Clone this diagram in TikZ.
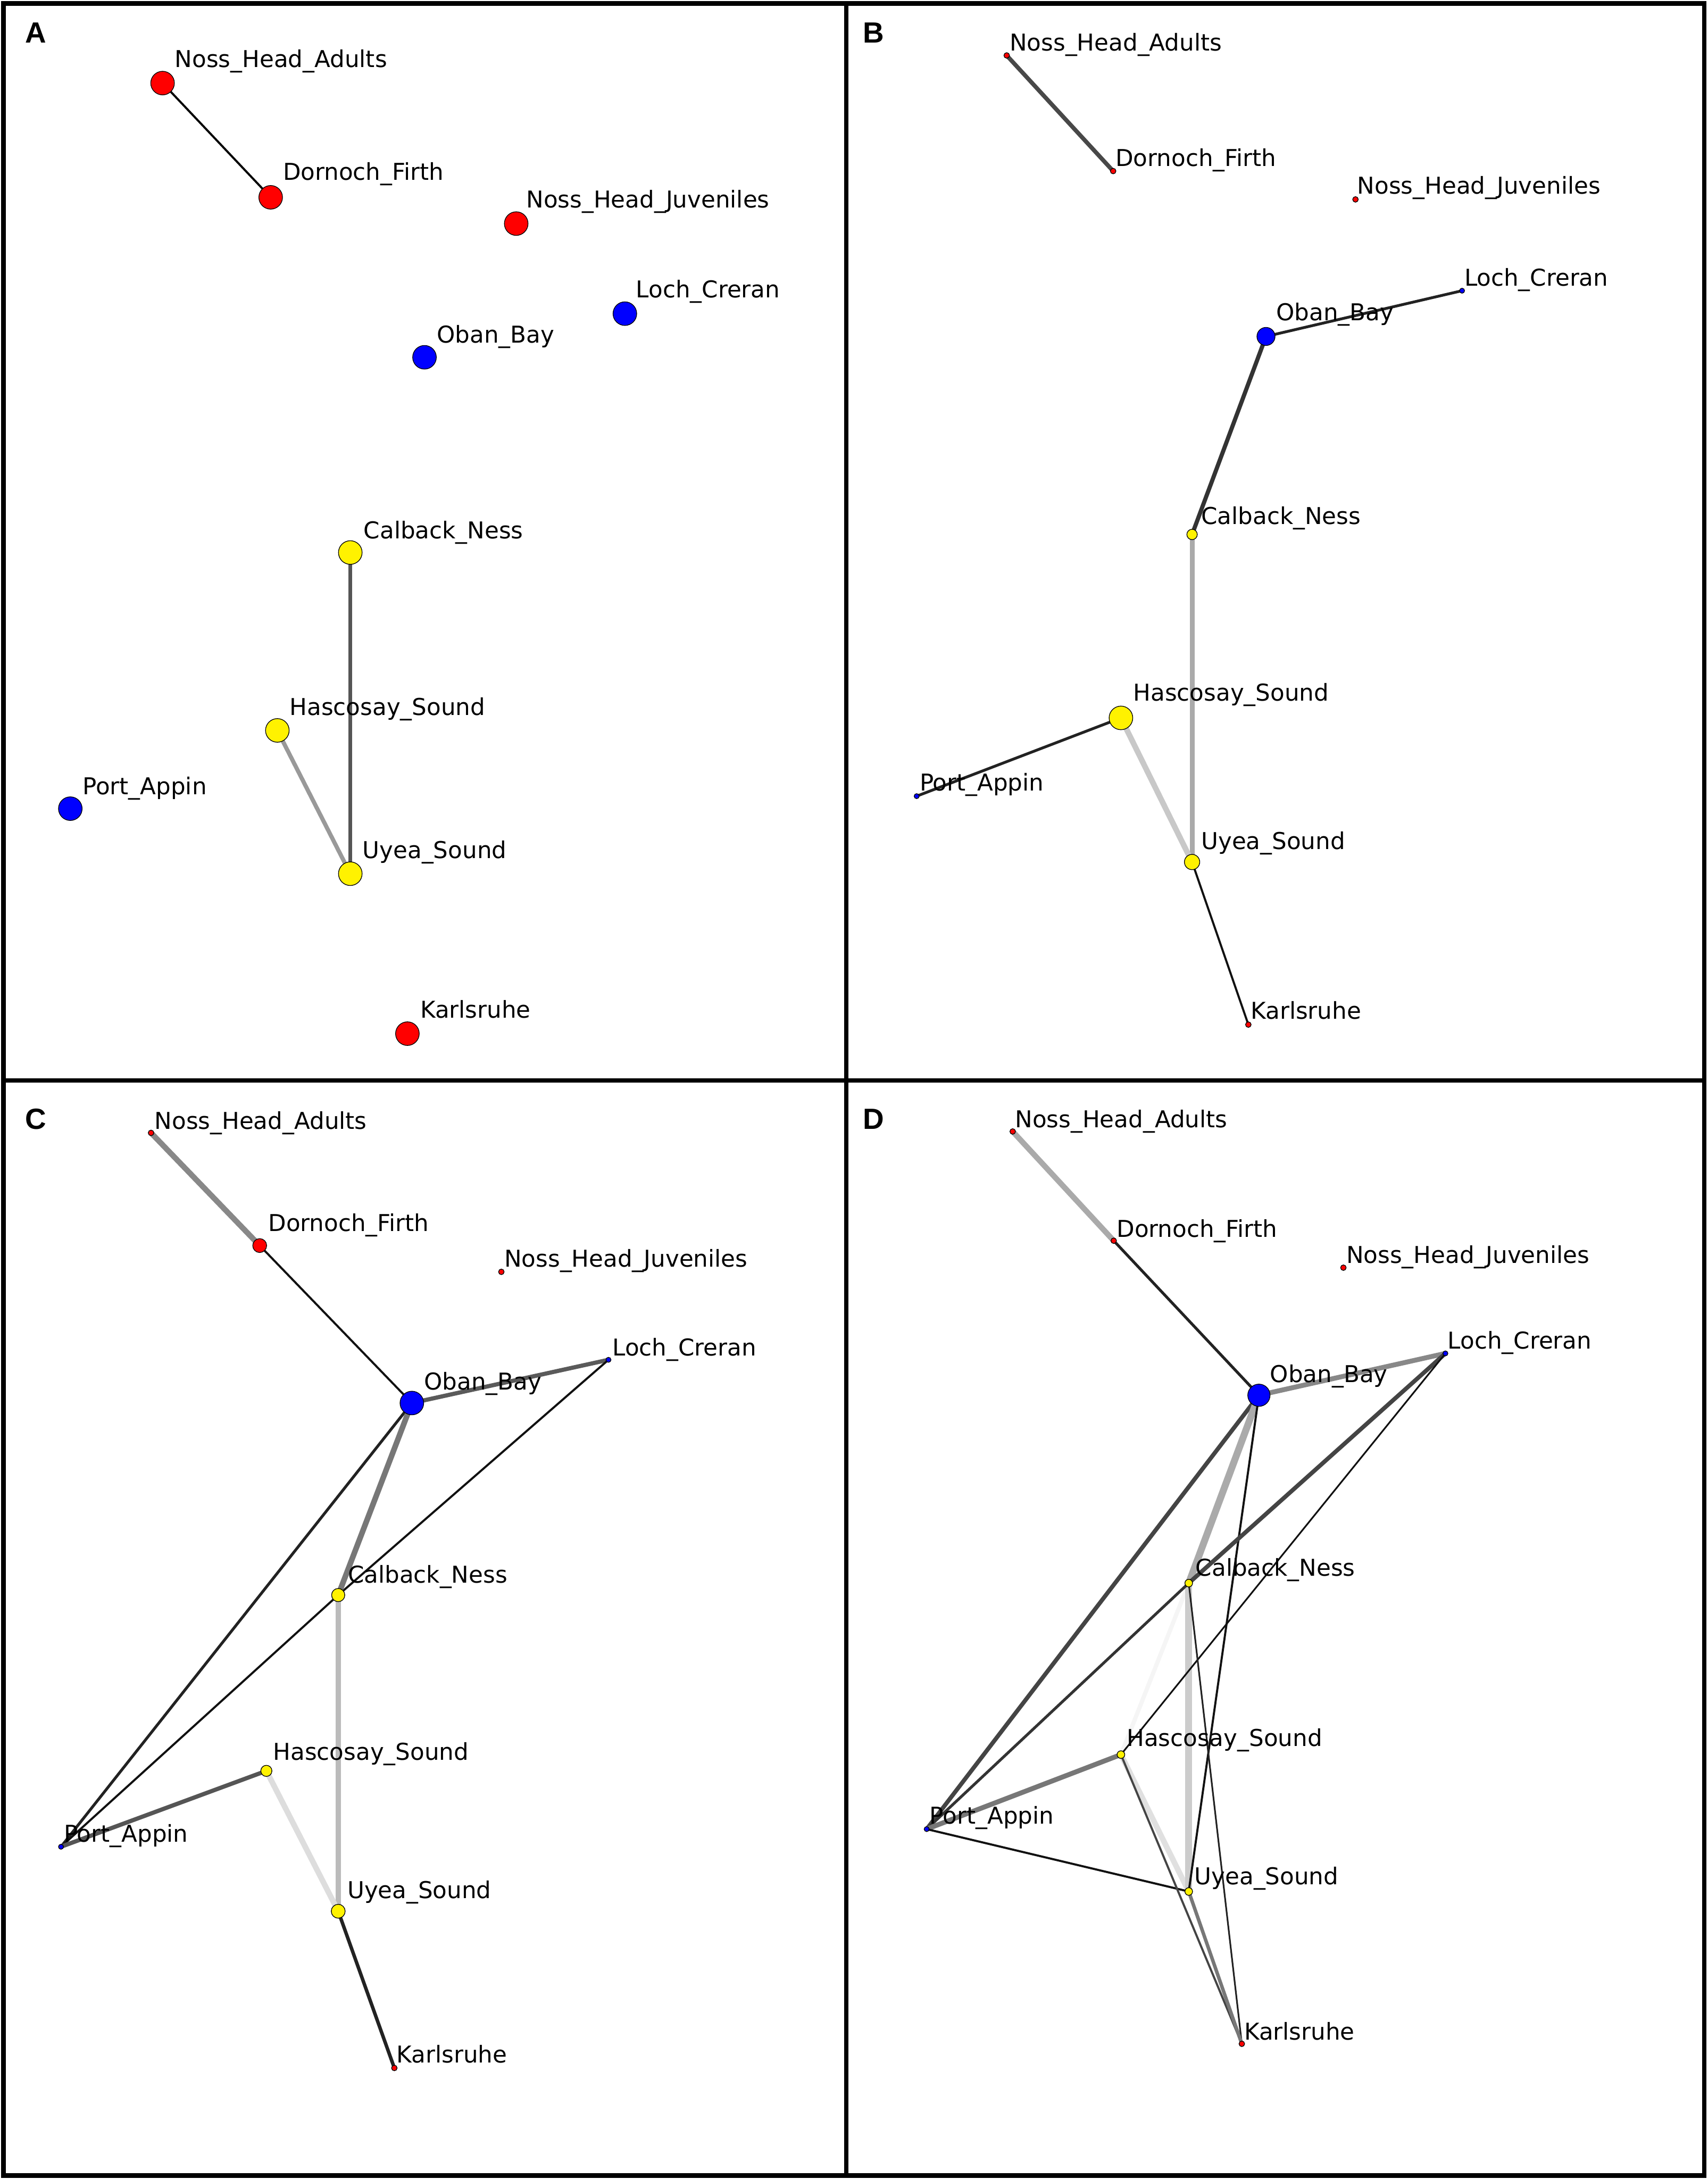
\documentclass[tikz,border=0pt]{standalone}
\usepackage{fontspec}
\setmainfont{DejaVu Sans}
\newfontfamily\panelfont{Liberation Sans}
\pgfdeclarelayer{background}
\pgfsetlayers{background,main}
\begin{document}
\begin{tikzpicture}[x=1pt,y=-1pt,
  gn/.style={circle,inner sep=0pt,draw=black,line width=0.5pt},
  lbl/.style={anchor=base west,inner sep=0pt,font=\fontsize{16.7}{20}\selectfont},
  plet/.style={anchor=base west,inner sep=0pt,font=\panelfont\bfseries\fontsize{21}{24}\selectfont},
  ed/.style={line cap=butt}]
\begin{pgfonlayer}{background}
\fill[white] (0,0) rectangle (1229,1568);
\end{pgfonlayer}
\useasboundingbox (0,0) rectangle (1229,1568);
% frame
\draw[line width=3.2pt] (2.5,2.5) rectangle (1226.5,1565.5);
\draw[line width=3.2pt] (609,2.5) -- (609,1565.5);
\draw[line width=3.2pt] (2.5,777.5) -- (1226.5,777.5);
% panel letters
\node[plet] (lA) at (18,31) {A};
\node[plet] (lB) at (621,31) {B};
\node[plet] (lC) at (18,812.5) {C};
\node[plet] (lD) at (621,812.5) {D};
% ---------- Panel A nodes ----------
\node[gn,fill=red,minimum size=17pt] (aNHA) at (117.0,59.8) {};
\node[gn,fill=red,minimum size=17pt] (aDF) at (194.8,142.0) {};
\node[gn,fill=red,minimum size=17pt] (aNHJ) at (371.5,160.9) {};
\node[gn,fill=blue,minimum size=17pt] (aLC) at (449.7,225.7) {};
\node[gn,fill=blue,minimum size=17pt] (aOB) at (305.5,257.1) {};
\node[gn,fill=yellow,minimum size=17pt] (aCN) at (252.1,397.6) {};
\node[gn,fill=yellow,minimum size=17pt] (aHS) at (199.6,525.6) {};
\node[gn,fill=blue,minimum size=17pt] (aPA) at (50.6,581.9) {};
\node[gn,fill=yellow,minimum size=17pt] (aUS) at (252.1,628.7) {};
\node[gn,fill=red,minimum size=17pt] (aK) at (293.2,743.8) {};
% ---------- Panel B nodes ----------
\node[gn,fill=red,minimum size=4pt] (bNHA) at (724.5,39.9) {};
\node[gn,fill=red,minimum size=4pt] (bDF) at (801.1,123.1) {};
\node[gn,fill=red,minimum size=4pt] (bNHJ) at (975.5,143.5) {};
\node[gn,fill=blue,minimum size=3.6pt] (bLC) at (1052.2,209.2) {};
\node[gn,fill=blue,minimum size=13pt] (bOB) at (911.1,242.1) {};
\node[gn,fill=yellow,minimum size=7.5pt] (bCN) at (857.9,384.6) {};
\node[gn,fill=yellow,minimum size=17pt] (bHS) at (806.7,516.6) {};
\node[gn,fill=blue,minimum size=3.6pt] (bPA) at (659.7,572.9) {};
\node[gn,fill=yellow,minimum size=11pt] (bUS) at (857.9,620.3) {};
\node[gn,fill=red,minimum size=4pt] (bK) at (898.4,737.3) {};
% ---------- Panel C nodes ----------
\node[gn,fill=red,minimum size=4pt] (cNHA) at (108.7,815.2) {};
\node[gn,fill=red,minimum size=10pt] (cDF) at (186.9,896.3) {};
\node[gn,fill=red,minimum size=4pt] (cNHJ) at (360.8,915.2) {};
\node[gn,fill=blue,minimum size=3.6pt] (cLC) at (437.9,978.5) {};
\node[gn,fill=blue,minimum size=17pt] (cOB) at (296.4,1009.6) {};
\node[gn,fill=yellow,minimum size=9.5pt] (cCN) at (243.4,1147.8) {};
\node[gn,fill=yellow,minimum size=8pt] (cHS) at (191.7,1274.3) {};
\node[gn,fill=blue,minimum size=3.6pt] (cPA) at (43.9,1328.9) {};
\node[gn,fill=yellow,minimum size=10pt] (cUS) at (243.4,1375.3) {};
\node[gn,fill=red,minimum size=4pt] (cK) at (283.8,1488.1) {};
% ---------- Panel D nodes ----------
\node[gn,fill=red,minimum size=4pt] (dNHA) at (728.8,814.2) {};
\node[gn,fill=red,minimum size=4pt] (dDF) at (801.5,892.8) {};
\node[gn,fill=red,minimum size=4pt] (dNHJ) at (966.8,912.2) {};
\node[gn,fill=blue,minimum size=3.6pt] (dLC) at (1040.2,973.9) {};
\node[gn,fill=blue,minimum size=16pt] (dOB) at (906.0,1004.0) {};
\node[gn,fill=yellow,minimum size=5.5pt] (dCN) at (855.5,1139.2) {};
\node[gn,fill=yellow,minimum size=5.5pt] (dHS) at (806.7,1262.6) {};
\node[gn,fill=blue,minimum size=3.6pt] (dPA) at (666.9,1316.2) {};
\node[gn,fill=yellow,minimum size=5.5pt] (dUS) at (855.5,1361.1) {};
\node[gn,fill=red,minimum size=4pt] (dK) at (893.7,1470.7) {};
% ---------- Edges ----------
\begin{pgfonlayer}{background}
% A
\draw[ed,line width=1.5pt,black] (aNHA.center) -- (aDF.center);
\draw[ed,line width=2.5pt,color={rgb,255:red,85;green,85;blue,85}] (aCN.center) -- (aUS.center);
\draw[ed,line width=3pt,color={rgb,255:red,153;green,153;blue,153}] (aHS.center) -- (aUS.center);
% B
\draw[ed,line width=3pt,color={rgb,255:red,72;green,72;blue,72}] (bNHA.center) -- (bDF.center);
\draw[ed,line width=2pt,color={rgb,255:red,34;green,34;blue,34}] (bOB.center) -- (bLC.center);
\draw[ed,line width=3pt,color={rgb,255:red,51;green,51;blue,51}] (bOB.center) -- (bCN.center);
\draw[ed,line width=3.5pt,color={rgb,255:red,170;green,170;blue,170}] (bCN.center) -- (bUS.center);
\draw[ed,line width=4pt,color={rgb,255:red,200;green,200;blue,200}] (bHS.center) -- (bUS.center);
\draw[ed,line width=2pt,color={rgb,255:red,34;green,34;blue,34}] (bHS.center) -- (bPA.center);
\draw[ed,line width=1.5pt,color={rgb,255:red,17;green,17;blue,17}] (bUS.center) -- (bK.center);
% C
\draw[ed,line width=4pt,color={rgb,255:red,136;green,136;blue,136}] (cNHA.center) -- (cDF.center);
\draw[ed,line width=1.5pt,color={rgb,255:red,17;green,17;blue,17}] (cDF.center) -- (cOB.center);
\draw[ed,line width=3pt,color={rgb,255:red,90;green,90;blue,90}] (cOB.center) -- (cLC.center);
\draw[ed,line width=1.5pt,color={rgb,255:red,17;green,17;blue,17}] (cLC.center) -- (cCN.center);
\draw[ed,line width=2pt,color={rgb,255:red,34;green,34;blue,34}] (cOB.center) -- (cPA.center);
\draw[ed,line width=4pt,color={rgb,255:red,119;green,119;blue,119}] (cOB.center) -- (cCN.center);
\draw[ed,line width=1.5pt,color={rgb,255:red,17;green,17;blue,17}] (cCN.center) -- (cPA.center);
\draw[ed,line width=4pt,color={rgb,255:red,187;green,187;blue,187}] (cCN.center) -- (cUS.center);
\draw[ed,line width=4pt,color={rgb,255:red,221;green,221;blue,221}] (cHS.center) -- (cUS.center);
\draw[ed,line width=3pt,color={rgb,255:red,85;green,85;blue,85}] (cHS.center) -- (cPA.center);
\draw[ed,line width=2.5pt,color={rgb,255:red,34;green,34;blue,34}] (cUS.center) -- (cK.center);
% D
\draw[ed,line width=4pt,color={rgb,255:red,170;green,170;blue,170}] (dNHA.center) -- (dDF.center);
\draw[ed,line width=2pt,color={rgb,255:red,34;green,34;blue,34}] (dDF.center) -- (dOB.center);
\draw[ed,line width=3.5pt,color={rgb,255:red,136;green,136;blue,136}] (dOB.center) -- (dLC.center);
\draw[ed,line width=3pt,color={rgb,255:red,68;green,68;blue,68}] (dOB.center) -- (dPA.center);
\draw[ed,line width=3pt,color={rgb,255:red,245;green,245;blue,245}] (dCN.center) -- (dHS.center);
\draw[ed,line width=4pt,color={rgb,255:red,224;green,224;blue,224}] (dHS.center) -- (dUS.center);
\draw[ed,line width=5pt,color={rgb,255:red,204;green,204;blue,204}] (dCN.center) -- (dUS.center);
\draw[ed,line width=5pt,color={rgb,255:red,170;green,170;blue,170}] (dOB.center) -- (dCN.center);
\draw[ed,line width=1.5pt,color={rgb,255:red,17;green,17;blue,17}] (dOB.center) -- (dUS.center);
\draw[ed,line width=3pt,color={rgb,255:red,68;green,68;blue,68}] (dLC.center) -- (dCN.center);
\draw[ed,line width=1.2pt,color={rgb,255:red,17;green,17;blue,17}] (dLC.center) -- (dHS.center);
\draw[ed,line width=2pt,color={rgb,255:red,51;green,51;blue,51}] (dPA.center) -- (dCN.center);
\draw[ed,line width=3.5pt,color={rgb,255:red,119;green,119;blue,119}] (dPA.center) -- (dHS.center);
\draw[ed,line width=1.5pt,color={rgb,255:red,17;green,17;blue,17}] (dPA.center) -- (dUS.center);
\draw[ed,line width=1.2pt,color={rgb,255:red,34;green,34;blue,34}] (dCN.center) -- (dK.center);
\draw[ed,line width=1.5pt,color={rgb,255:red,68;green,68;blue,68}] (dHS.center) -- (dK.center);
\draw[ed,line width=2.5pt,color={rgb,255:red,119;green,119;blue,119}] (dUS.center) -- (dK.center);
\end{pgfonlayer}
% ---------- Labels ----------
% A
\node[lbl] (aNHAl) at (125.7,48.3) {Noss\_Head\_Adults};
\node[lbl] (aDFl) at (203.5,129.5) {Dornoch\_Firth};
\node[lbl] (aNHJl) at (378.6,149.5) {Noss\_Head\_Juveniles};
\node[lbl] (aLCl) at (457.6,214.2) {Loch\_Creran};
\node[lbl] (aOBl) at (314.2,246.6) {Oban\_Bay};
\node[lbl] (aCNl) at (261.6,387.6) {Calback\_Ness};
\node[lbl] (aHSl) at (208.3,514.6) {Hascosay\_Sound};
\node[lbl] (aPAl) at (59.3,571.9) {Port\_Appin};
\node[lbl] (aUSl) at (260.8,617.8) {Uyea\_Sound};
\node[lbl] (aKl) at (302.3,732.4) {Karlsruhe};
% B
\node[lbl] (bNHAl) at (726.5,36.4) {Noss\_Head\_Adults};
\node[lbl] (bDFl) at (802.7,119.6) {Dornoch\_Firth};
\node[lbl] (bNHJl) at (976.7,139.5) {Noss\_Head\_Juveniles};
\node[lbl] (bLCl) at (1053.7,205.8) {Loch\_Creran};
\node[lbl] (bOBl) at (918.3,230.7) {Oban\_Bay};
\node[lbl] (bCNl) at (864.3,377.1) {Calback\_Ness};
\node[lbl] (bHSl) at (815.4,504.2) {Hascosay\_Sound};
\node[lbl] (bPAl) at (661.7,568.9) {Port\_Appin};
\node[lbl] (bUSl) at (864.3,611.3) {Uyea\_Sound};
\node[lbl] (bKl) at (900.0,733.3) {Karlsruhe};
% C
\node[lbl] (cNHAl) at (111.1,812.7) {Noss\_Head\_Adults};
\node[lbl] (cDFl) at (192.9,886.1) {Dornoch\_Firth};
\node[lbl] (cNHJl) at (362.8,911.7) {Noss\_Head\_Juveniles};
\node[lbl] (cLCl) at (440.6,975.4) {Loch\_Creran};
\node[lbl] (cOBl) at (305.1,999.9) {Oban\_Bay};
\node[lbl] (cCNl) at (250.2,1139.2) {Calback\_Ness};
\node[lbl] (cHSl) at (196.4,1266.7) {Hascosay\_Sound};
\node[lbl] (cPAl) at (45.8,1325.3) {Port\_Appin};
\node[lbl] (cUSl) at (249.8,1366.2) {Uyea\_Sound};
\node[lbl] (cKl) at (285.3,1484.5) {Karlsruhe};
% D
\node[lbl] (dNHAl) at (730.4,811.2) {Noss\_Head\_Adults};
\node[lbl] (dDFl) at (803.5,890.2) {Dornoch\_Firth};
\node[lbl] (dNHJl) at (968.7,909.1) {Noss\_Head\_Juveniles};
\node[lbl] (dLCl) at (1041.8,970.8) {Loch\_Creran};
\node[lbl] (dOBl) at (913.9,994.8) {Oban\_Bay};
\node[lbl] (dCNl) at (860.3,1134.1) {Calback\_Ness};
\node[lbl] (dHSl) at (810.7,1256.5) {Hascosay\_Sound};
\node[lbl] (dPAl) at (668.9,1312.6) {Port\_Appin};
\node[lbl] (dUSl) at (859.5,1356.0) {Uyea\_Sound};
\node[lbl] (dKl) at (895.3,1467.7) {Karlsruhe};
\end{tikzpicture}
\end{document}
